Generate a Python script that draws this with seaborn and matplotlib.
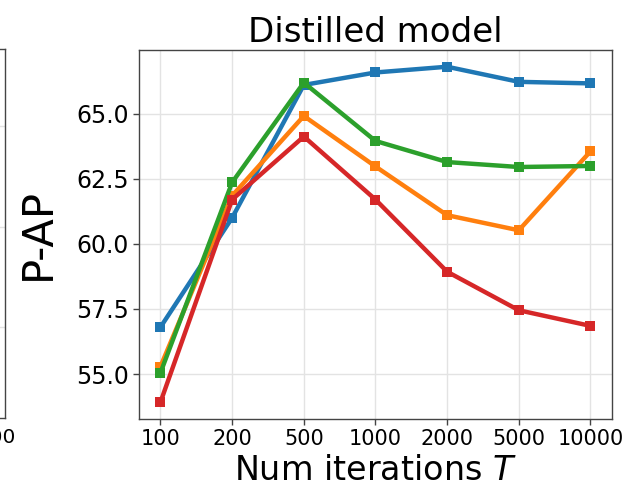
import numpy as np
import pandas as pd
import matplotlib
matplotlib.use("Agg")
import matplotlib.pyplot as plt
import seaborn as sns

# Number of iterations T (plotted as evenly spaced categories)
iterations = ["100", "200", "500", "1000", "2000", "5000", "10000"]

# P-AP of the distilled model for each configuration
config_1 = [56.8, 61.0, 66.1, 66.58, 66.8, 66.22, 66.16]
config_2 = [55.29, 61.85, 64.91, 62.97, 61.1, 60.52, 63.55]
config_3 = [55.05, 62.36, 66.19, 63.95, 63.14, 62.95, 62.99]
config_4 = [53.92, 61.7, 64.12, 61.7, 58.93, 57.45, 56.85]

series_names = ["config 1", "config 2", "config 3", "config 4"]
series_values = [config_1, config_2, config_3, config_4]
colors = ["#1f77b4", "#ff7f0e", "#2ca02c", "#d62728"]

y_ticks = [55.0, 57.5, 60.0, 62.5, 65.0]

pos = np.arange(len(iterations))
df = pd.DataFrame({
    "pos": np.tile(pos, len(series_names)),
    "pap": np.concatenate(series_values),
    "series": np.repeat(series_names, len(iterations)),
})

sns.set_style("ticks")
plt.rcParams["font.family"] = ["DejaVu Sans"]
plt.rcParams["text.color"] = "black"
plt.rcParams["axes.labelcolor"] = "black"
plt.rcParams["xtick.color"] = "#444444"
plt.rcParams["ytick.color"] = "#444444"
plt.rcParams["xtick.labelcolor"] = "black"
plt.rcParams["ytick.labelcolor"] = "black"

fig = plt.figure(figsize=(6.26, 4.86), dpi=100)


def style_axes(a):
    a.grid(True, color="#e3e3e3", linewidth=1)
    a.set_axisbelow(True)
    a.tick_params(axis="both", length=4, width=1)
    for sp in a.spines.values():
        sp.set_visible(True)
        sp.set_color("#444444")
        sp.set_linewidth(1.0)


# Neighbouring panel, mostly outside the canvas (only its right edge shows)
ax_prev = fig.add_axes([0.008 - 0.7556, 0.1400, 0.7556, 0.7593])
ax_prev.set_xlim(-0.3, 6.3)
ax_prev.set_ylim(0, 1)
ax_prev.set_xticks(pos)
ax_prev.set_xticklabels([""] * (len(iterations) - 1) + [iterations[-1]], fontsize=14.5)
ax_prev.set_yticks([0.247, 0.518, 0.79])
ax_prev.set_yticklabels([])
style_axes(ax_prev)

# Main panel
ax = fig.add_axes([0.222, 0.1379, 0.7556, 0.7593])
sns.lineplot(
    data=df, x="pos", y="pap", hue="series", palette=colors,
    marker="s", markersize=7, markeredgewidth=0, linewidth=3.2,
    sort=False, legend=False, ax=ax,
)
ax.set_xticks(pos)
ax.set_xticklabels(iterations, fontsize=15)
ax.set_yticks(y_ticks)
ax.set_yticklabels([f"{v:.1f}" for v in y_ticks], fontsize=17)
style_axes(ax)
ax.set_xlabel("Num iterations $T$", fontsize=24, labelpad=3)
ax.set_ylabel("P-AP", fontsize=30, labelpad=12)
ax.set_title("Distilled model", fontsize=24.5, pad=6)

fig.savefig("out.png", dpi=100)
